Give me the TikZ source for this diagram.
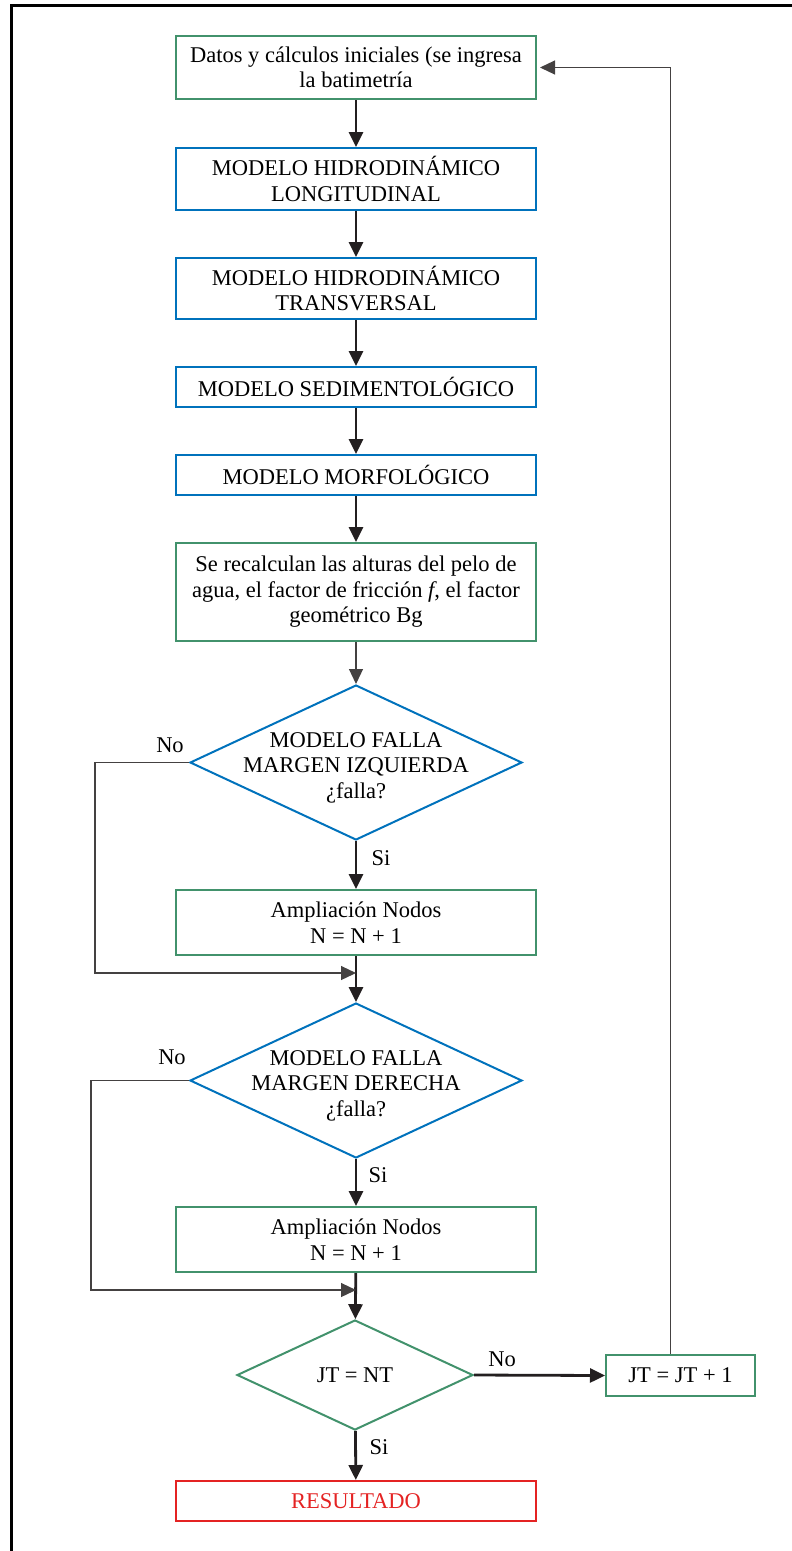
\documentclass[tikz,border=0pt]{standalone}
\usepackage{fontspec}
\setmainfont{Liberation Serif}
\usetikzlibrary{shapes.geometric,arrows.meta,positioning}
\definecolor{verde}{RGB}{66,146,108}
\definecolor{azul}{RGB}{0,114,188}
\definecolor{rojo}{RGB}{228,35,35}
\definecolor{tinta}{RGB}{35,31,32}

\begin{document}
\begin{tikzpicture}[x=1pt,y=-1pt,
	font=\fontsize{22.5}{25.5}\selectfont,
	caja/.style={draw,line width=2pt,minimum width=360pt,align=center,inner sep=0pt},
	rombo/.style={draw,diamond,line width=2pt,inner sep=0pt},
	rotulo/.style={align=center,inner sep=0pt,yshift=-5pt},
	flecha/.style={draw=tinta,line width=2.8pt,-{Triangle[length=15pt,width=14pt]}},
	fina/.style={draw=tinta!85,line width=1.2pt,-{Triangle[length=15pt,width=14pt]}}]
	\useasboundingbox (0,0) rectangle (792,1551);
	\draw[line width=3pt] (792,5) -- (11,5) -- (11,1551);

	% cajas del flujo principal
	\node[caja,draw=verde,minimum height=63pt] (datos) at (356,67.5) {Datos y cálculos iniciales (se ingresa\\la batimetría};
	\node[caja,draw=azul,minimum height=62pt] (hlong) at (356,179) {MODELO HIDRODINÁMICO\\LONGITUDINAL};
	\node[caja,draw=azul,minimum height=61pt] (htrans) at (356,288.5) {MODELO HIDRODINÁMICO\\TRANSVERSAL};
	\node[caja,draw=azul,minimum height=40pt] (sedim) at (356,387) {MODELO SEDIMENTOLÓGICO};
	\node[caja,draw=azul,minimum height=40pt] (morfo) at (356,475) {MODELO MORFOLÓGICO};
	\node[caja,draw=verde,minimum height=98pt] (recalc) at (356,592) {Se recalculan las alturas del pelo de\\agua, el factor de fricción \textit{f}, el factor\\geométrico Bg};

	% margen izquierda
	\node[rombo,draw=azul,minimum width=332pt,minimum height=155pt,
		label={[rotulo]center:MODELO FALLA\\MARGEN IZQUIERDA\\¿falla?}] (izq) at (356,762.5) {};
	\node[caja,draw=verde,minimum height=65pt] (ampizq) at (356,922.5) {Ampliación Nodos\\N = N + 1};
	\coordinate (junizq) at (356,973);

	% margen derecha
	\node[rombo,draw=azul,minimum width=332pt,minimum height=155pt,
		label={[rotulo]center:MODELO FALLA\\MARGEN DERECHA\\¿falla?}] (der) at (356,1080.5) {};
	\node[caja,draw=verde,minimum height=65pt] (ampder) at (356,1239.5) {Ampliación Nodos\\N = N + 1};
	\coordinate (junder) at (356,1290);

	% control de iteraciones
	\node[rombo,draw=verde,minimum width=236pt,minimum height=110pt,
		label={[align=center,inner sep=0pt]center:JT = NT}] (iter) at (355,1375) {};
	\node[caja,draw=verde,minimum width=149pt,minimum height=41pt] (cuenta) at (680.5,1375.5) {JT = JT + 1};
	\node[caja,draw=rojo,text=rojo,minimum height=40pt] (result) at (356,1501) {RESULTADO};

	% etiquetas
	\node (noizq) at (170,745) {No};
	\node (siizq) at (381,858) {Si};
	\node (noder) at (172,1057) {No};
	\node (sider) at (378,1175) {Si};
	\node (noiter) at (502,1359) {No};
	\node (siiter) at (379,1447) {Si};

	% conectores
	\draw[flecha] (datos) -- (hlong);
	\draw[flecha] (hlong) -- (htrans);
	\draw[flecha] (htrans) -- (sedim);
	\draw[flecha] (sedim) -- (morfo);
	\draw[flecha] (morfo) -- (recalc);
	\draw[fina] (recalc) -- (izq);
	\draw[flecha] (izq) -- (ampizq);
	\draw[flecha] (ampizq) -- (der);
	\draw[fina] (izq.west) -- (95,762.5) |- (junizq);
	\draw[flecha] (der) -- (ampder);
	\draw[flecha] (ampder) -- (iter);
	\draw[fina] (der.west) -- (91,1080.5) |- (junder);
	\draw[flecha] (iter) -- (result);
	\draw[flecha] (iter.east) -- (cuenta.west);
	\draw[fina,shorten >=3pt] ([xshift=-10pt]cuenta.north) |- (datos.east);
\end{tikzpicture}
\end{document}
